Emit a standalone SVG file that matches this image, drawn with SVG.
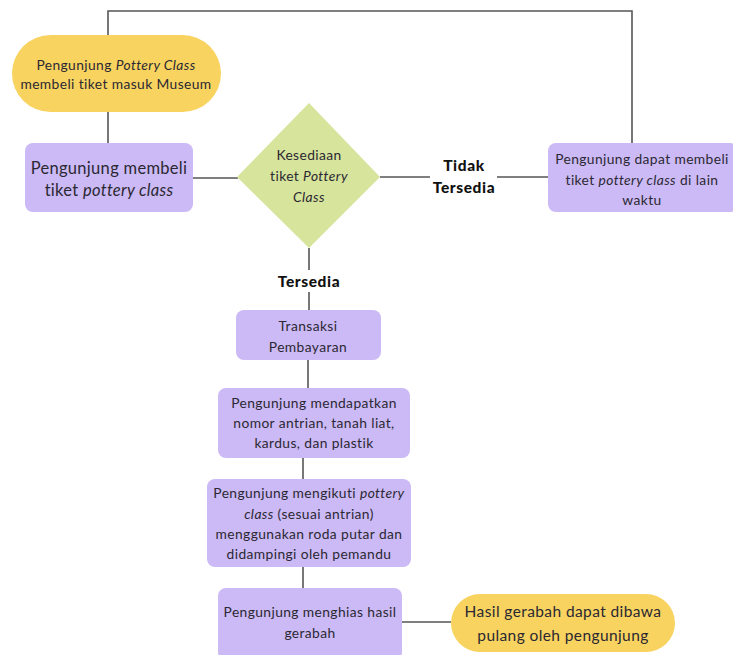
<svg xmlns="http://www.w3.org/2000/svg" width="733" height="655" viewBox="0 0 733 655">
<style>
text{font-family:"Lato","Noto Sans",sans-serif;fill:#2b2833;text-anchor:middle}
.s{font-size:13.8px;letter-spacing:0.4px}
.b{font-size:16.5px;letter-spacing:0.3px}
.l{font-size:15.5px;letter-spacing:0.4px}
.lbl{font-size:15.5px;font-weight:900;letter-spacing:0.6px;fill:#111}
.y{fill:#F8D35F}
.p{fill:#CBBAF5}
.g{fill:#D6E49C}
.c{stroke:#555;stroke-width:1.6;fill:none}
</style>
<rect width="733" height="655" fill="#fff"/>
<g id="connectors">
<polyline class="c" points="108,35 108,11 632,11 632,143"/>
<line class="c" x1="108" y1="112" x2="108" y2="143"/>
<line class="c" x1="193" y1="178" x2="238" y2="178"/>
<line class="c" x1="380" y1="177" x2="430" y2="177"/>
<line class="c" x1="497" y1="177" x2="548" y2="177"/>
<line class="c" x1="309" y1="248" x2="309" y2="270"/>
<line class="c" x1="309" y1="292" x2="309" y2="310"/>
<line class="c" x1="308" y1="360" x2="308" y2="388"/>
<line class="c" x1="303" y1="458" x2="303" y2="479"/>
<line class="c" x1="303" y1="567" x2="303" y2="588"/>
<line class="c" x1="402" y1="622" x2="451" y2="622"/>
<text class="lbl" x="464" y="171">Tidak</text>
<text class="lbl" x="464" y="193">Tersedia</text>
<text class="lbl" x="309" y="287">Tersedia</text>
</g>
<g id="start">
<rect class="y" x="12" y="35" width="209" height="77" rx="38.5"/>
<text class="s" x="116" y="70">Pengunjung <tspan font-style="italic">Pottery Class</tspan></text>
<text class="s" x="116" y="89">membeli tiket masuk Museum</text>
</g>
<g id="beli">
<rect class="p" x="25" y="143" width="168" height="69" rx="8"/>
<text class="b" x="109" y="174">Pengunjung membeli</text>
<text class="b" x="109" y="196">tiket <tspan font-style="italic">pottery class</tspan></text>
</g>
<g id="kesediaan">
<polygon class="g" points="309,103 380,177 309,248 237,177"/>
<text class="s" x="309" y="160">Kesediaan</text>
<text class="s" x="309" y="181">tiket <tspan font-style="italic">Pottery</tspan></text>
<text class="s" x="309" y="202" font-style="italic">Class</text>
</g>
<g id="lain-waktu">
<rect class="p" x="548" y="143" width="190" height="69" rx="8"/>
<text class="s" x="642" y="164">Pengunjung dapat membeli</text>
<text class="s" x="642" y="185">tiket <tspan font-style="italic">pottery class</tspan> di lain</text>
<text class="s" x="642" y="205">waktu</text>
</g>
<g id="transaksi">
<rect class="p" x="236" y="310" width="145" height="50" rx="8"/>
<text class="s" x="308" y="331">Transaksi</text>
<text class="s" x="308" y="352">Pembayaran</text>
</g>
<g id="antrian">
<rect class="p" x="218" y="388" width="192" height="70" rx="8"/>
<text class="s" x="314" y="408">Pengunjung mendapatkan</text>
<text class="s" x="314" y="428">nomor antrian, tanah liat,</text>
<text class="s" x="314" y="448">kardus, dan plastik</text>
</g>
<g id="kelas">
<rect class="p" x="207" y="479" width="204" height="88" rx="8"/>
<text class="s" x="309" y="498">Pengunjung mengikuti <tspan font-style="italic">pottery</tspan></text>
<text class="s" x="309" y="519"><tspan font-style="italic">class</tspan> (sesuai antrian)</text>
<text class="s" x="309" y="539">menggunakan roda putar  dan</text>
<text class="s" x="309" y="559">didampingi oleh pemandu</text>
</g>
<g id="menghias">
<rect class="p" x="218" y="588" width="184" height="72" rx="8"/>
<text class="s" x="310" y="617">Pengunjung menghias hasil</text>
<text class="s" x="310" y="638">gerabah</text>
</g>
<g id="selesai">
<rect class="y" x="451" y="594" width="224" height="58" rx="29"/>
<text class="l" x="563" y="617">Hasil gerabah dapat dibawa</text>
<text class="l" x="563" y="641">pulang oleh pengunjung</text>
</g>
</svg>
